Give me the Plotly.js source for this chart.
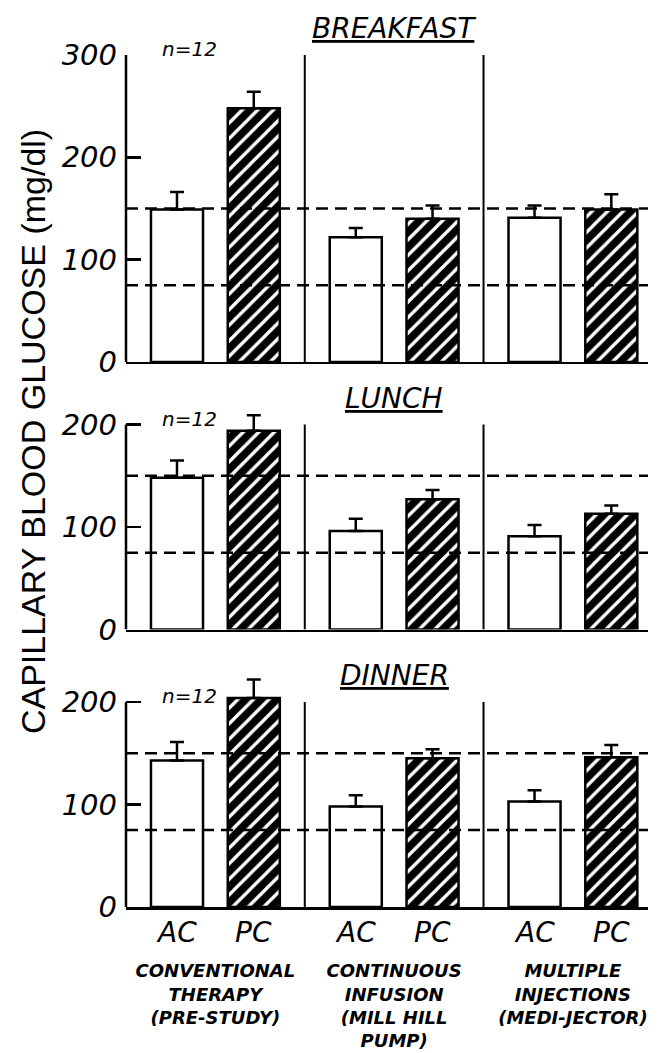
<!DOCTYPE html>
<html>
<head>
<meta charset="utf-8">
<script src="https://cdn.plot.ly/plotly-3.0.1.min.js"></script>
<style>html,body{margin:0;padding:0;background:#fff;}#chart{width:662px;height:1053px;}</style>
</head>
<body>
<div id="chart"></div>
<script>
// ---- data ----
const categories = [
  'CONVENTIONAL<br>THERAPY<br>(PRE-STUDY)',
  'CONTINUOUS<br>INFUSION<br>(MILL HILL<br>PUMP)',
  'MULTIPLE<br>INJECTIONS<br>(MEDI-JECTOR)'
];
const seriesNames = ['AC', 'PC'];
const meals = ['BREAKFAST', 'LUNCH', 'DINNER'];
const axisMax = [300, 200, 200];
const targetLevels = [75, 150];
const sampleLabel = 'n=12';

const breakfastAC = [149, 122, 141];
const breakfastACErr = [17, 9, 12];
const breakfastPC = [248, 140, 149];
const breakfastPCErr = [16, 13, 15];

const lunchAC = [148, 96, 91];
const lunchACErr = [17, 12, 11];
const lunchPC = [194, 127, 113];
const lunchPCErr = [15, 9, 8];

const dinnerAC = [143, 98, 103];
const dinnerACErr = [18, 11, 11];
const dinnerPC = [204, 145, 146];
const dinnerPCErr = [18, 9, 12];

const yTitle = 'CAPILLARY BLOOD GLUCOSE (mg/dl)';

// ---- build ----
const panels = [
  {ac: breakfastAC, acErr: breakfastACErr, pc: breakfastPC, pcErr: breakfastPCErr},
  {ac: lunchAC, acErr: lunchACErr, pc: lunchPC, pcErr: lunchPCErr},
  {ac: dinnerAC, acErr: dinnerACErr, pc: dinnerPC, pcErr: dinnerPCErr}
];
// plotting room above the axis top so bars / error bars beyond it are not clipped
const rangeTop = [300, 230, 230];
const domains = [[0.6397, 1], [0.3257, 0.6024], [0, 0.2767]];
const FONT = 'DejaVu Sans';
const ital = (size, weight) => ({family: FONT, size: size, color: 'black', style: 'italic', weight: weight || 'normal'});

const traces = [];
const layout = {
  width: 662, height: 1053,
  margin: {l: 126, r: 14, t: 55, b: 146},
  paper_bgcolor: 'white', plot_bgcolor: 'white',
  showlegend: false,
  barmode: 'group', bargap: 0.141, bargroupgap: 0.322,
  annotations: [], shapes: []
};

panels.forEach((p, i) => {
  const sfx = i === 0 ? '' : String(i + 1);
  const xa = 'x' + sfx, ya = 'y' + sfx;
  const errStyle = {type: 'data', symmetric: false, color: 'black', thickness: 2.5, width: 7};
  traces.push({
    type: 'bar', name: seriesNames[0], x: categories, y: p.ac, xaxis: xa, yaxis: ya,
    marker: {color: 'white', line: {color: 'black', width: 2.5}},
    error_y: Object.assign({array: p.acErr, arrayminus: p.acErr.map(() => 0)}, errStyle),
    hoverinfo: 'skip'
  });
  traces.push({
    type: 'bar', name: seriesNames[1], x: categories, y: p.pc, xaxis: xa, yaxis: ya,
    marker: {color: 'black', line: {color: 'black', width: 2.5},
      pattern: {shape: '/', fgcolor: 'white', bgcolor: 'black', size: 11, solidity: 0.3, fillmode: 'replace'}},
    error_y: Object.assign({array: p.pcErr, arrayminus: p.pcErr.map(() => 0)}, errStyle),
    hoverinfo: 'skip'
  });

  layout['xaxis' + sfx] = {
    domain: [0, 1], anchor: ya, type: 'category', categoryorder: 'array', categoryarray: categories,
    range: [-0.5, 2.42], showline: true, linecolor: 'black', linewidth: 2.5,
    showgrid: false, ticks: '', showticklabels: i === 2, tickfont: ital(18, 'bold'), ticklabelstandoff: 46,
    zeroline: false, fixedrange: true
  };
  layout['yaxis' + sfx] = {
    domain: domains[i], anchor: xa, range: [0, rangeTop[i]], tick0: 0, dtick: 100,
    showline: false,
    ticks: 'inside', ticklen: 15, tickwidth: 2.5, tickcolor: 'black',
    tickfont: ital(29), ticklabelstandoff: 8,
    showgrid: false, zeroline: false, fixedrange: true
  };

  // y axis line, only up to the top tick
  layout.shapes.push({type: 'line', layer: 'above', xref: xa + ' domain', x0: 0, x1: 0,
    yref: ya, y0: 0, y1: axisMax[i], line: {color: 'black', width: 2.5}});
  // separators between treatment groups
  for (let k = 1; k < categories.length; k++) {
    layout.shapes.push({type: 'line', layer: 'above', xref: xa, x0: k - 0.5, x1: k - 0.5,
      yref: ya, y0: 0, y1: axisMax[i], line: {color: 'black', width: 2}});
  }
  // target range
  targetLevels.forEach(v => {
    layout.shapes.push({type: 'line', layer: 'above', xref: xa + ' domain', x0: 0, x1: 1,
      yref: ya, y0: v, y1: v, line: {color: 'black', width: 2.5, dash: '12px,7px'}});
  });

  layout.annotations.push({
    text: '<u>' + meals[i] + '</u>', xref: xa, x: categories[1], yref: ya, y: axisMax[i],
    yanchor: 'bottom', yshift: 8, showarrow: false, font: ital(28)
  });
  layout.annotations.push({
    text: sampleLabel, xref: xa, x: categories[0], xshift: -26, yref: ya, y: axisMax[i],
    yanchor: 'middle', yshift: 6, showarrow: false, font: ital(20)
  });
});

// AC / PC labels under the bottom panel
categories.forEach(c => {
  seriesNames.forEach((s, k) => {
    layout.annotations.push({
      text: s, xref: 'x3', x: c, xshift: (k === 0 ? -1 : 1) * 38.4,
      yref: 'y3', y: 0, yanchor: 'top', yshift: -7, showarrow: false, font: ital(28)
    });
  });
});

layout.annotations.push({
  text: yTitle, xref: 'paper', x: -0.178, xanchor: 'center', yref: 'paper', y: 0.5575, yanchor: 'middle',
  textangle: -90, showarrow: false,
  font: {family: 'Liberation Sans', size: 34, color: 'black'}
});

Plotly.newPlot('chart', traces, layout, {displayModeBar: false, staticPlot: true});
</script>
</body>
</html>
